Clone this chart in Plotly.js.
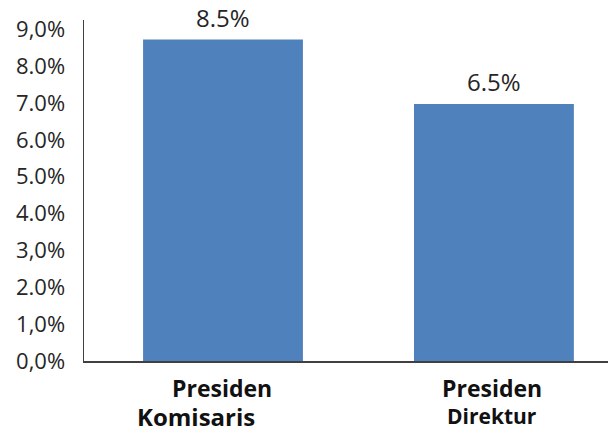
<!DOCTYPE html>
<html><head><meta charset="utf-8">
<script src="https://cdn.plot.ly/plotly-3.0.1.min.js"></script>
<style>html,body{margin:0;padding:0;background:#fff}#c{width:608px;height:427px}</style>
</head><body><div id="c"></div>
<script>
const categories = ["Presiden Komisaris", "Presiden Direktur"];
const barHeights = [8.72, 6.97];
const barLabels = ["8.5%", "6.5%"];
const yTickVals = [0, 1, 2, 3, 4, 5, 6, 7, 8, 9];
const yTickText = ["0,0%", "1,0%", "2.0%", "3,0%", "4.0%", "5.0%", "6.0%", "7.0%", "8.0%", "9,0%"];

const txtColor = "#262626";
const annotations = [];
categories.forEach((c, i) => {
  annotations.push({x: c, y: barHeights[i], xref: "x", yref: "y", text: barLabels[i],
    showarrow: false, yanchor: "bottom", yshift: 4,
    font: {family: "Open Sans", size: 24, color: txtColor}});
  const parts = c.split(" ");
  annotations.push({x: c, y: 0, xref: "x", yref: "paper", text: "<b>" + parts[0] + "</b>",
    showarrow: false, yanchor: "middle", yshift: -27, xshift: i === 0 ? -1 : -2,
    font: {family: "Open Sans", size: 23, color: "#111"}});
  annotations.push({x: c, y: 0, xref: "x", yref: "paper", text: "<b>" + parts[1] + "</b>",
    showarrow: false, yanchor: "middle", yshift: -55, xshift: i === 0 ? -27 : -2,
    font: {family: "Open Sans", size: i === 0 ? 24 : 21, color: "#111"}});
});

Plotly.newPlot("c", [{
  type: "bar", x: categories, y: barHeights,
  marker: {color: "#4f81bd"}, width: 0.59, hoverinfo: "none"
}], {
  width: 608, height: 427,
  margin: {l: 84, r: 0, t: 20, b: 66},
  paper_bgcolor: "#fff", plot_bgcolor: "#fff",
  showlegend: false,
  xaxis: {range: [-0.513, 1.421], showticklabels: false, showgrid: false, zeroline: false,
    showline: true, linecolor: "#404040", linewidth: 1.5, ticks: ""},
  yaxis: {range: [0, 9.25], tickvals: yTickVals, ticktext: yTickText, showgrid: false, zeroline: false,
    showline: true, linecolor: "#404040", linewidth: 1.5, ticks: "", ticklabelstandoff: 13,
    tickfont: {family: "Open Sans", size: 22, color: txtColor}},
  annotations: annotations
}, {staticPlot: true});
</script></body></html>
